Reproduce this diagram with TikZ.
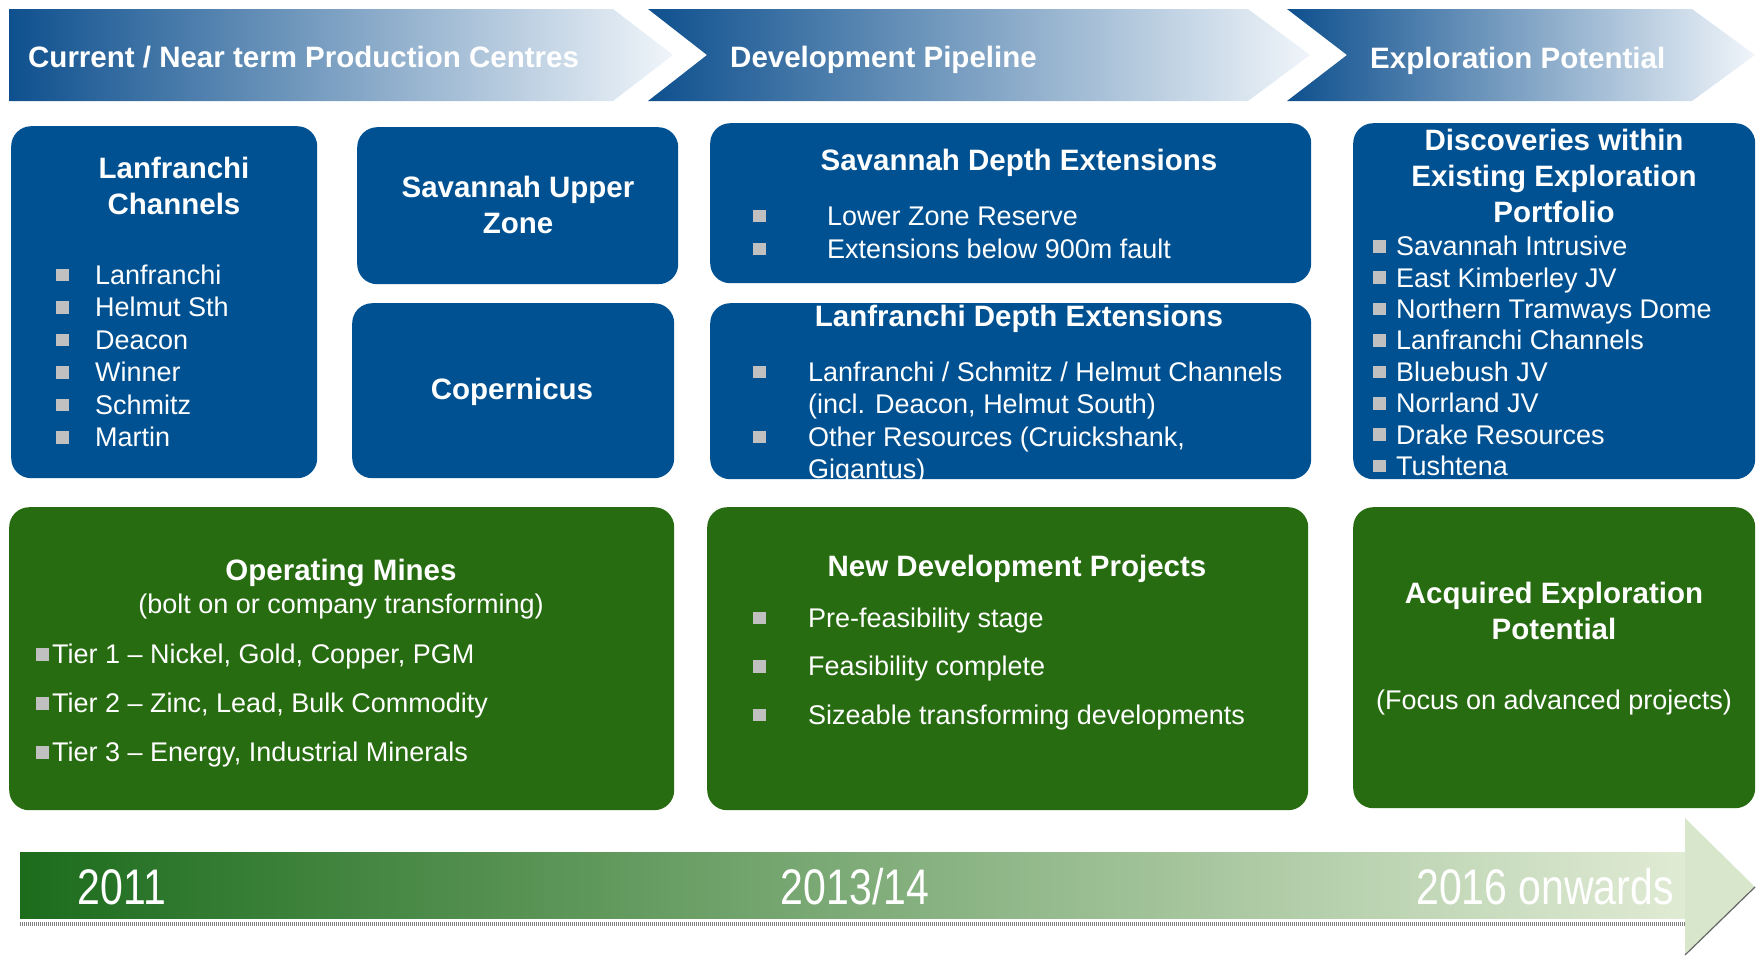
\documentclass[tikz,border=0pt]{standalone}
\usepackage{fontspec}
\setmainfont{Liberation Sans}
\newfontfamily\narrowfont[FakeStretch=0.82]{Liberation Sans}
\usetikzlibrary{positioning}

\definecolor{boxblue}{RGB}{0,81,145}
\definecolor{boxgreen}{RGB}{39,108,17}
\definecolor{bulletgray}{RGB}{192,192,192}
\definecolor{chevdark}{RGB}{14,80,142}
\definecolor{chevmid}{RGB}{112,160,200}
\definecolor{chevlight}{RGB}{240,245,250}
\definecolor{bardark}{RGB}{28,108,28}
\definecolor{barmid}{RGB}{150,182,110}
\definecolor{barlight}{RGB}{224,235,212}
\definecolor{headfill}{RGB}{216,230,204}

\newcommand{\sq}{{\color{bulletgray}\rule[0.12em]{0.46em}{0.46em}}}
\newcommand{\bl}[1]{\makebox[#1][l]{\sq}}

\begin{document}
\begin{tikzpicture}[x=1pt, y=-1pt]
	\tikzset{bluebox/.style={fill=boxblue, rounded corners=20pt, anchor=north west, inner sep=0pt},
		greenbox/.style={fill=boxgreen, rounded corners=20pt, anchor=north west, inner sep=0pt},
		title/.style={text=white, font=\fontsize{29.5}{36}\selectfont\bfseries, align=center, inner sep=0pt},
		sub/.style={text=white, font=\fontsize{27}{33}\selectfont, inner sep=0pt},
		item/.style={text=white, font=\fontsize{27}{32.5}\selectfont, align=left, inner sep=0pt, anchor=west},
		chevtext/.style={text=white, font=\fontsize{29.5}{36}\selectfont\bfseries, anchor=base west, inner sep=0pt},
		yeartext/.style={text=white, font=\fontsize{50}{54}\selectfont\narrowfont, anchor=base, inner sep=0pt}}
	\useasboundingbox (0,0) rectangle (1758,956);

	% stage chevrons
	\shade[left color=chevdark, middle color=chevmid, right color=chevlight]
		(9,9) -- (613,9) -- (673,55) -- (613,101) -- (9,101) -- cycle;
	\shade[left color=chevdark, middle color=chevmid, right color=chevlight]
		(648,9) -- (1248,9) -- (1310,55) -- (1248,101) -- (648,101) -- (707,55) -- cycle;
	\shade[left color=chevdark, middle color=chevmid, right color=chevlight]
		(1287,9) -- (1692,9) -- (1755,55) -- (1692,101) -- (1287,101) -- (1347,55) -- cycle;
	\node[chevtext] (stage1) at (28,67) {Current / Near term Production Centres};
	\node[chevtext] (stage2) at (730,67) {Development Pipeline};
	\node[chevtext] (stage3) at (1370,68) {Exploration Potential};

	% blue boxes
	\node[bluebox, minimum width=306pt, minimum height=352pt] (lanbox) at (11,126) {};
	\node[bluebox, minimum width=321pt, minimum height=157pt] (supbox) at (357,127) {};
	\node[bluebox, minimum width=322pt, minimum height=175pt] (copbox) at (352,303) {};
	\node[bluebox, minimum width=601pt, minimum height=160pt] (sdebox) at (710,123) {};
	\node[bluebox, minimum width=601pt, minimum height=176pt] (ldebox) at (710,303) {};
	\node[bluebox, minimum width=402pt, minimum height=356pt] (disbox) at (1353,123) {};

	\node[title] (lantitle) at (174,186) {Lanfranchi\\Channels};
	\node[item] (lanlist) at (56,356) {\bl{39pt}Lanfranchi\\\bl{39pt}Helmut Sth\\\bl{39pt}Deacon\\
		\bl{39pt}Winner\\\bl{39pt}Schmitz\\\bl{39pt}Martin};
	\node[title] (suptitle) at (518,205) {Savannah Upper\\Zone};
	\node[title] (coptitle) at (512,392) {Copernicus};
	\node[title] (sdetitle) at (1019,163) {Savannah Depth Extensions};
	\node[item, font=\fontsize{27}{33}\selectfont] (sdelist) at (753,233)
		{\bl{74pt}Lower Zone Reserve\\\bl{74pt}Extensions below 900m fault};
	\node[title] (ldetitle) at (1019,319) {Lanfranchi Depth Extensions};
	\begin{scope}
		\clip[rounded corners=20pt] (ldebox.north west) rectangle (ldebox.south east);
		\node[item] (ldelist) at (753,423) {\bl{55pt}Lanfranchi / Schmitz / Helmut Channels\\
			\hspace*{55pt}(incl. Deacon, Helmut South)\\\bl{55pt}Other Resources (Cruickshank,\\
			\hspace*{55pt}Gigantus)};
	\end{scope}
	\node[title] (distitle) at (1554,176) {Discoveries within\\Existing Exploration\\Portfolio};
	\begin{scope}
		\clip[rounded corners=20pt] (disbox.north west) rectangle (disbox.south east);
		\node[item, font=\fontsize{27}{31.4}\selectfont] (dislist) at (1373,356)
			{\bl{23pt}Savannah Intrusive\\\bl{23pt}East Kimberley JV\\\bl{23pt}Northern Tramways Dome\\
			\bl{23pt}Lanfranchi Channels\\\bl{23pt}Bluebush JV\\\bl{23pt}Norrland JV\\
			\bl{23pt}Drake Resources\\\bl{23pt}Tushtena};
	\end{scope}

	% green boxes
	\node[greenbox, minimum width=665pt, minimum height=303pt] (opbox) at (9,507) {};
	\node[greenbox, minimum width=601pt, minimum height=303pt] (ndbox) at (707,507) {};
	\node[greenbox, minimum width=402pt, minimum height=301pt] (aqbox) at (1353,507) {};

	\node[title] (optitle) at (341,573) {Operating Mines};
	\node[sub] (opsub) at (341,607) {(bolt on or company transforming)};
	\node[item, font=\fontsize{27}{49}\selectfont] (oplist) at (36,706)
		{\bl{16pt}Tier 1 -- Nickel, Gold, Copper, PGM\\\bl{16pt}Tier 2 -- Zinc, Lead, Bulk Commodity\\
		\bl{16pt}Tier 3 -- Energy, Industrial Minerals};
	\node[title] (ndtitle) at (1017,569) {New Development Projects};
	\node[item, font=\fontsize{27}{48.5}\selectfont] (ndlist) at (753,669)
		{\bl{55pt}Pre-feasibility stage\\\bl{55pt}Feasibility complete\\\bl{55pt}Sizeable transforming developments};
	\node[title] (aqtitle) at (1554,611) {Acquired Exploration\\Potential};
	\node[sub] (aqsub) at (1554,703) {(Focus on advanced projects)};

	% timeline arrow
	\fill[headfill] (1685,818) -- (1755,887) -- (1685,955) -- cycle;
	\draw[gray!80!black, line width=1.2pt] (1755,887) -- (1685,955);
	\shade[left color=bardark, middle color=barmid, right color=barlight] (20,852) rectangle (1685,918);
	\draw[gray, line width=3.5pt, dash pattern=on 1pt off 1pt] (20,924) -- (1685,924);
	\node[yeartext] (y2011) at (122,904) {2011};
	\node[yeartext] (y2013) at (855,904) {2013/14};
	\node[yeartext] (y2016) at (1545,904) {2016 onwards};
\end{tikzpicture}
\end{document}
